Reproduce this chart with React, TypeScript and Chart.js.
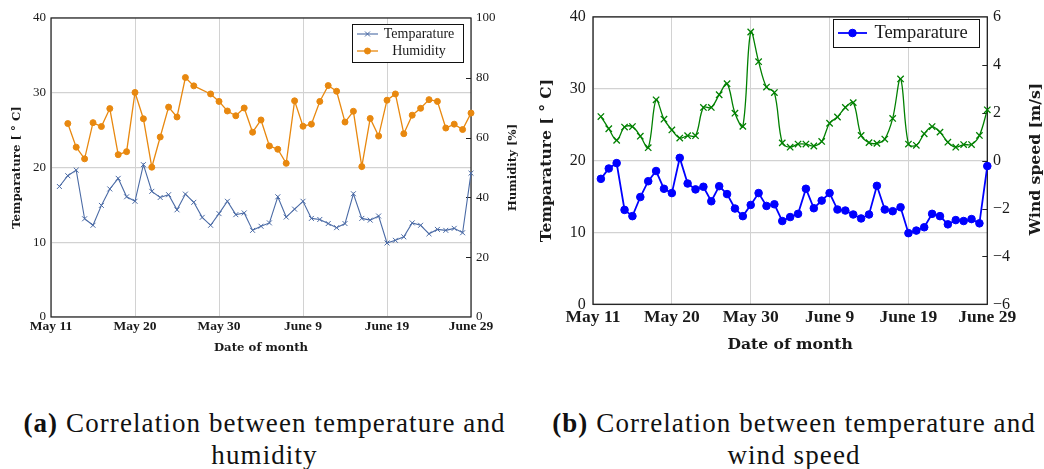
import React, { useEffect, useRef } from 'react';
import { Chart, registerables } from 'chart.js';

Chart.register(...registerables);

// ---------- data ----------
const xTickLabels = ['May 11', 'May 20', 'May 30', 'June 9', 'June 19', 'June 29'];
const days = [
  1, 2, 3, 4, 5, 6, 7, 8, 9, 10, 11, 12, 13, 14, 15, 16, 17, 18, 19, 20, 21, 22, 23, 24, 25,
  26, 27, 28, 29, 30, 31, 32, 33, 34, 35, 36, 37, 38, 39, 40, 41, 42, 43, 44, 45, 46, 47, 48, 49, 50,
];
const temperature = [
  17.46, 18.9, 19.65, 13.14, 12.27, 14.93, 17.13, 18.55, 16.08, 15.48,
  20.38, 16.81, 15.99, 16.36, 14.34, 16.44, 15.34, 13.33, 12.27, 13.83,
  15.48, 13.69, 13.92, 11.59, 12.14, 12.59, 16.08, 13.37, 14.43, 15.48,
  13.19, 13.05, 12.5, 11.95, 12.5, 16.49, 13.19, 12.96, 13.51, 9.9,
  10.26, 10.72, 12.59, 12.27, 11.13, 11.72, 11.59, 11.86, 11.27, 19.24,
];
const humidity = [
  null, 64.7, 56.8, 52.9, 65.0, 63.7, 69.7, 54.3, 55.3, 75.1,
  66.3, 50.1, 60.2, 70.2, 66.9, 80.1, 77.3, null, 74.6, 72.1,
  68.9, 67.3, 69.9, 61.8, 65.9, 57.2, 56.1, 51.4, 72.3, 63.8,
  64.5, 72.1, 77.4, 75.5, 65.2, 68.8, 50.3, 66.4, 60.5, 72.5,
  74.6, 61.3, 67.5, 69.8, 72.7, 72.1, 63.2, 64.5, 62.7, 68.2,
];
const windSpeed = [
  1.84, 1.33, 0.85, 1.4, 1.42, 1.02, 0.54, 2.54, 1.73, 1.28,
  0.94, 1.04, 1.04, 2.22, 2.22, 2.75, 3.21, 1.98, 1.43, 5.37,
  4.13, 3.07, 2.84, 0.74, 0.56, 0.69, 0.69, 0.61, 0.8, 1.56,
  1.82, 2.22, 2.42, 1.05, 0.75, 0.72, 0.9, 1.76, 3.41, 0.69,
  0.64, 1.12, 1.42, 1.19, 0.77, 0.56, 0.67, 0.67, 1.05, 2.12,
];
const windTickLabels = ['\u22126', '\u22124', '\u22122', '0', '2', '4', '6'];

// ---------- styles ----------
const SERIF = '"Liberation Serif", "Times New Roman", serif';
const DJ = '"DejaVu Serif", serif';
const TEXT = '#1a1a1a';
const GRID = '#d2d2d2';
const BLUE_A = '#4a6aa5';
const ORANGE = '#e8880f';
const BLUE_B = '#0000ff';
const GREEN = '#008000';

const toPoints = (vals: (number | null)[]) => vals.map((v, i) => ({ x: days[i], y: v }));

function drawMarker(ctx: any, kind: string, x: number, y: number, r: number, color: string, lw: number) {
  ctx.save();
  ctx.strokeStyle = color;
  ctx.fillStyle = color;
  ctx.lineWidth = lw;
  ctx.beginPath();
  if (kind === 'circle') {
    ctx.arc(x, y, r, 0, Math.PI * 2);
    ctx.fill();
    ctx.stroke();
  } else {
    const d = r * Math.SQRT1_2;
    ctx.moveTo(x - d, y - d);
    ctx.lineTo(x + d, y + d);
    ctx.moveTo(x - d, y + d);
    ctx.lineTo(x + d, y - d);
    ctx.stroke();
  }
  ctx.restore();
}

function makeDecor(opts: any) {
  return {
    id: 'decor',
    beforeDatasetsDraw(chart: any) {
      const { ctx, chartArea: ca } = chart;
      const sc = chart.scales[opts.rightScale];
      ctx.save();
      ctx.strokeStyle = '#222';
      ctx.lineWidth = 1;
      sc.ticks.forEach((t: any) => {
        const y = Math.round(sc.getPixelForValue(t.value)) + 0.5;
        if (y > ca.top + 2 && y < ca.bottom - 2) {
          ctx.beginPath();
          ctx.moveTo(ca.right - opts.innerTick, y);
          ctx.lineTo(ca.right, y);
          ctx.stroke();
        }
      });
      ctx.lineWidth = opts.frameWidth;
      ctx.strokeStyle = '#1e1e1e';
      ctx.strokeRect(ca.left, ca.top, ca.right - ca.left, ca.bottom - ca.top);
      ctx.restore();
    },
    afterDraw(chart: any) {
      const { ctx } = chart;
      const lg = opts.legend;
      ctx.save();
      // legend box
      ctx.fillStyle = '#ffffff';
      ctx.fillRect(lg.box[0], lg.box[1], lg.box[2], lg.box[3]);
      ctx.strokeStyle = '#111';
      ctx.lineWidth = 1;
      ctx.strokeRect(lg.box[0] + 0.5, lg.box[1] + 0.5, lg.box[2], lg.box[3]);
      lg.rows.forEach((row: any) => {
        ctx.strokeStyle = row.color;
        ctx.lineWidth = row.lw;
        ctx.beginPath();
        ctx.moveTo(lg.lineX[0], row.y);
        ctx.lineTo(lg.lineX[1], row.y);
        ctx.stroke();
        drawMarker(ctx, row.marker, (lg.lineX[0] + lg.lineX[1]) / 2, row.y, row.r, row.color, row.mlw);
        ctx.fillStyle = TEXT;
        ctx.font = lg.font;
        ctx.textAlign = 'center';
        ctx.textBaseline = 'middle';
        ctx.fillText(row.label, lg.textX, row.y + 0.5);
      });
      // right axis title, reading bottom-to-top
      const rt = opts.rightTitle;
      ctx.translate(rt.x, rt.y);
      ctx.rotate(-Math.PI / 2);
      ctx.font = rt.font;
      ctx.fillStyle = TEXT;
      ctx.textAlign = 'center';
      ctx.textBaseline = 'middle';
      ctx.fillText(rt.text, 0, 0);
      ctx.restore();
    },
  };
}

function configA(): any {
  return {
    type: 'line',
    data: {
      datasets: [
        {
          label: 'Temparature',
          data: toPoints(temperature),
          yAxisID: 'y',
          borderColor: BLUE_A,
          backgroundColor: BLUE_A,
          borderWidth: 1.1,
          pointStyle: 'crossRot',
          pointRadius: 3.5,
          pointBorderWidth: 1,
          tension: 0,
          clip: false,
        },
        {
          label: 'Humidity',
          data: toPoints(humidity),
          yAxisID: 'y2',
          borderColor: ORANGE,
          backgroundColor: ORANGE,
          borderWidth: 1.3,
          pointStyle: 'circle',
          pointRadius: 3,
          pointBorderWidth: 1,
          spanGaps: true,
          tension: 0,
          clip: false,
        },
      ],
    },
    options: {
      responsive: false,
      animation: false,
      devicePixelRatio: 1,
      layout: { padding: { top: 18, left: 0, right: 0, bottom: 0 } },
      plugins: { legend: { display: false }, tooltip: { enabled: false } },
      scales: {
        x: {
          type: 'linear',
          min: 0,
          max: 50,
          ticks: {
            stepSize: 10,
            autoSkip: false,
            maxRotation: 0,
            padding: 1.6,
            color: TEXT,
            font: { family: SERIF, size: 13.5, weight: 'bold' },
            callback: (v: number) => xTickLabels[Math.round(v / 10)],
          },
          grid: { color: GRID, lineWidth: 1, drawTicks: false },
          border: { display: false },
          title: {
            display: true,
            text: 'Date of month',
            color: TEXT,
            font: { family: DJ, size: 11.7, weight: 'bold' },
            padding: { top: 0, bottom: 1 },
          },
          afterFit: (s: any) => { s.height = 39; },
        },
        y: {
          position: 'left',
          min: 0,
          max: 40,
          ticks: { stepSize: 10, padding: 5, color: TEXT, font: { family: SERIF, size: 13 } },
          grid: { color: GRID, lineWidth: 1.2, drawTicks: false },
          border: { display: false },
          title: {
            display: true,
            text: 'Temparature [ \u00b0 C]',
            color: TEXT,
            font: { family: DJ, size: 11.7, weight: 'bold' },
            padding: { top: 9.5, bottom: 0 },
          },
          afterFit: (s: any) => { s.width = 51; },
        },
        y2: {
          position: 'right',
          min: 0,
          max: 100,
          ticks: { stepSize: 20, padding: 5, color: TEXT, font: { family: SERIF, size: 13 } },
          grid: { drawOnChartArea: false, drawTicks: false },
          border: { display: false },
          afterFit: (s: any) => { s.width = 59; },
        },
      },
    },
    plugins: [
      makeDecor({
        rightScale: 'y2',
        innerTick: 5,
        frameWidth: 1.2,
        legend: {
          box: [352, 24, 111, 38],
          lineX: [357, 378],
          textX: 419,
          font: `14px ${SERIF}`,
          rows: [
            { y: 34, label: 'Temparature', color: BLUE_A, marker: 'cross', r: 3.5, lw: 1.1, mlw: 1 },
            { y: 51, label: 'Humidity', color: ORANGE, marker: 'circle', r: 3, lw: 1.3, mlw: 1 },
          ],
        },
        rightTitle: { text: 'Humidity [%]', x: 512.5, y: 167.5, font: `bold 11.7px ${DJ}` },
      }),
    ],
  };
}

function configB(): any {
  return {
    type: 'line',
    data: {
      datasets: [
        {
          label: 'Temparature',
          data: toPoints(temperature),
          yAxisID: 'y',
          borderColor: BLUE_B,
          backgroundColor: BLUE_B,
          borderWidth: 1.8,
          pointStyle: 'circle',
          pointRadius: 3.8,
          pointBorderWidth: 1,
          tension: 0,
          clip: false,
        },
        {
          label: 'Wind speed',
          data: toPoints(windSpeed),
          yAxisID: 'y2',
          borderColor: GREEN,
          backgroundColor: GREEN,
          borderWidth: 1.3,
          pointStyle: 'crossRot',
          pointRadius: 4.5,
          pointBorderWidth: 1.3,
          tension: 0.35,
          clip: false,
        },
      ],
    },
    options: {
      responsive: false,
      animation: false,
      devicePixelRatio: 1,
      layout: { padding: { top: 13.3, left: 0, right: 0, bottom: 0 } },
      plugins: { legend: { display: false }, tooltip: { enabled: false } },
      scales: {
        x: {
          type: 'linear',
          min: 0,
          max: 50,
          ticks: {
            stepSize: 10,
            autoSkip: false,
            maxRotation: 0,
            padding: 2.2,
            color: TEXT,
            font: { family: SERIF, size: 17.5, weight: 'bold' },
            callback: (v: number) => xTickLabels[Math.round(v / 10)],
          },
          grid: { color: GRID, lineWidth: 1, drawTicks: false },
          border: { display: false },
          title: {
            display: true,
            text: 'Date of month',
            color: TEXT,
            font: { family: DJ, size: 15.6, weight: 'bold' },
            padding: { top: 0, bottom: 1.6 },
          },
          afterFit: (s: any) => { s.height = 51.7; },
        },
        y: {
          position: 'left',
          min: 0,
          max: 40,
          ticks: { stepSize: 10, padding: 7.3, color: TEXT, font: { family: SERIF, size: 16 } },
          grid: { color: GRID, lineWidth: 1.2, drawTicks: false },
          border: { display: false },
          title: {
            display: true,
            text: 'Temparature [ \u00b0 C]',
            color: TEXT,
            font: { family: DJ, size: 15.6, weight: 'bold' },
            padding: { top: 17.6, bottom: 0 },
          },
          afterFit: (s: any) => { s.width = 73; },
        },
        y2: {
          position: 'right',
          min: -6,
          max: 6,
          ticks: {
            stepSize: 2,
            padding: 5.7,
            color: TEXT,
            font: { family: SERIF, size: 16 },
            callback: (v: number) => windTickLabels[Math.round((v + 6) / 2)],
          },
          grid: { drawOnChartArea: false, drawTicks: false },
          border: { display: false },
          afterFit: (s: any) => { s.width = 56.7; },
        },
      },
    },
    plugins: [
      makeDecor({
        rightScale: 'y2',
        innerTick: 5,
        frameWidth: 1.3,
        legend: {
          box: [313, 19, 146, 28],
          lineX: [318, 347],
          textX: 401,
          font: `18.5px ${SERIF}`,
          rows: [
            { y: 33, label: 'Temparature', color: BLUE_B, marker: 'circle', r: 3.8, lw: 1.8, mlw: 1 },
          ],
        },
        rightTitle: { text: 'Wind speed [m/s]', x: 516, y: 159, font: `bold 15.6px ${DJ}` },
      }),
    ],
  };
}

const captionStyle: React.CSSProperties = {
  position: 'absolute',
  width: 540,
  textAlign: 'center',
  fontFamily: SERIF,
  fontSize: 27,
  letterSpacing: '1.1px',
  lineHeight: '32px',
  color: '#111',
  whiteSpace: 'nowrap',
};

export default function App() {
  const refA = useRef<HTMLCanvasElement>(null);
  const refB = useRef<HTMLCanvasElement>(null);

  useEffect(() => {
    const a = new Chart(refA.current as HTMLCanvasElement, configA());
    const b = new Chart(refB.current as HTMLCanvasElement, configB());
    return () => {
      a.destroy();
      b.destroy();
    };
  }, []);

  return (
    <div
      style={{
        position: 'absolute',
        left: 0,
        top: 0,
        width: 1044,
        height: 469,
        overflow: 'hidden',
        background: '#ffffff',
      }}
    >
      <canvas
        ref={refA}
        width={530}
        height={356}
        style={{ position: 'absolute', left: 0, top: 0, width: 530, height: 356 }}
      />
      <canvas
        ref={refB}
        width={524}
        height={356}
        style={{ position: 'absolute', left: 520, top: 0, width: 524, height: 356 }}
      />
      <div style={{ ...captionStyle, left: 264.5 - 270, top: 407 }}>
        <b>(a)</b> Correlation between temperature and
        <br />
        humidity
      </div>
      <div style={{ ...captionStyle, left: 794 - 270, top: 407 }}>
        <b>(b)</b> Correlation between temperature and
        <br />
        wind speed
      </div>
    </div>
  );
}
